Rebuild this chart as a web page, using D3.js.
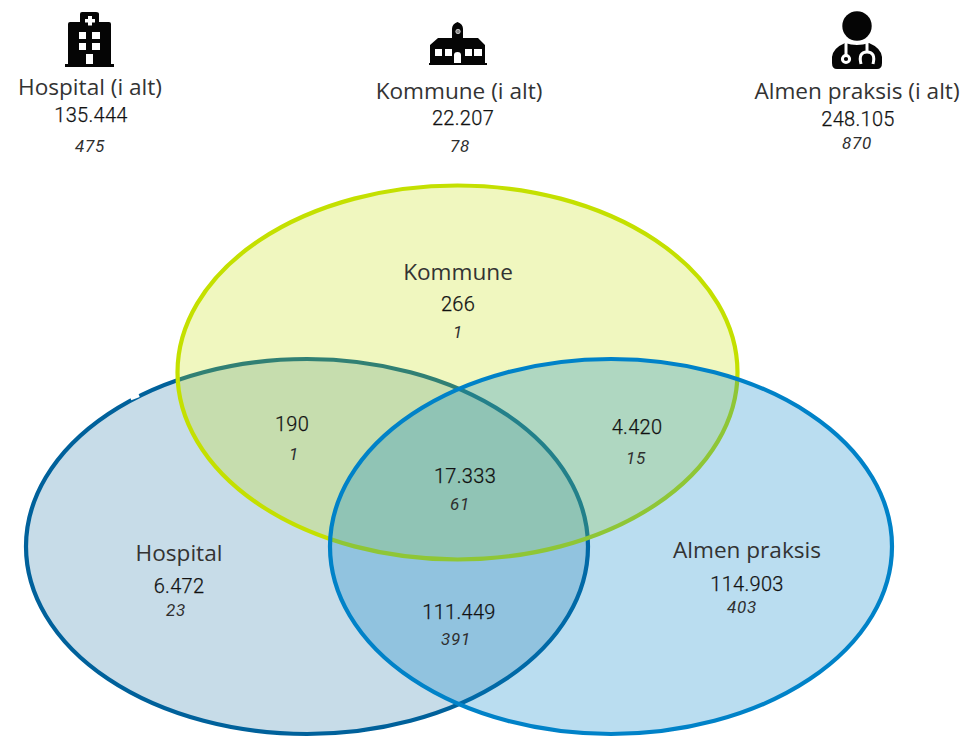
<!DOCTYPE html>
<html>
<head>
<meta charset="utf-8">
<script src="https://cdn.jsdelivr.net/npm/d3@7"></script>
<style>
  html, body { margin: 0; padding: 0; background: #fff; }
  svg { display: block; }
  .name { font-family: "Open Sans", sans-serif; font-size: 22.6px; fill: #333; }
  .value { font-family: Roboto, sans-serif; font-size: 20px; font-weight: 300; fill: #111; letter-spacing: 0.3px; stroke: #111; stroke-width: 0.25px; }
  .count { font-family: Roboto, sans-serif; font-size: 17px; font-style: italic; fill: #2f2f2f; letter-spacing: 0.8px; }
</style>
</head>
<body>
<div id="chart"></div>
<script>
// Totals at the top
const totalNames = ["Hospital (i alt)", "Kommune (i alt)", "Almen praksis (i alt)"];
const totalValues = ["135.444", "22.207", "248.105"];
const totalCounts = ["475", "78", "870"];

// Venn regions
const regionNames = ["Kommune", "", "", "", "Hospital", "Almen praksis", ""];
const regionValues = ["266", "190", "4.420", "17.333", "6.472", "114.903", "111.449"];
const regionCounts = ["1", "1", "15", "61", "23", "403", "391"];

// Layout: centre x, then baselines of name, value, count
const totalX = [[90, 91, 90], [459, 463, 460], [857, 858, 857]];
const totalY = [[95, 122, 152], [99, 125, 152], [99, 126, 149]];
const regionX = [[458, 458, 458], [0, 292, 294], [0, 637, 636], [0, 465, 460], [179, 179, 176], [747, 747, 742], [0, 459, 456]];
const regionY = [[280, 311, 338], [0, 431, 460], [0, 434, 464], [0, 483, 510], [561, 593, 616], [558, 591, 613], [0, 619, 645]];

// Circles, bottom one first
const setNames = ["Hospital", "Kommune", "Almen praksis"];
const setCx = [307, 457.5, 611];
const setCy = [546.5, 372.5, 546.5];
const setRx = [281, 280, 281];
const setRy = [187.5, 187, 187.5];
const setStroke = ["#00619b", "#c4e000", "#0082c8"];
const setFill = ["#005f95", "#c4e000", "#0082c8"];
const setOpacity = [0.22, 0.25, 0.27];

const width = 961, height = 737;

const svg = d3.select("#chart").append("svg")
  .attr("width", width)
  .attr("height", height);

// Draw fill and outline together so later sets tint the ones below
svg.selectAll(".set")
  .data(setNames)
  .enter().append("ellipse")
  .attr("class", "set")
  .attr("cx", (d, i) => setCx[i])
  .attr("cy", (d, i) => setCy[i])
  .attr("rx", (d, i) => setRx[i])
  .attr("ry", (d, i) => setRy[i])
  .attr("fill", (d, i) => d3.color(setFill[i]).copy({opacity: setOpacity[i]}))
  .attr("stroke", (d, i) => setStroke[i])
  .attr("stroke-width", 4.2);

// small gap in the hospital outline
svg.append("rect")
  .attr("x", 130).attr("y", 394)
  .attr("width", 9).attr("height", 5)
  .attr("fill", "#fff")
  .attr("transform", "rotate(-20 134 396)");

// Icons
const icons = svg.append("g").attr("fill", "#050505");

// Hospital
icons.append("g").attr("transform", "translate(65,12)")
  .append("path")
  .attr("fill-rule", "evenodd")
  .attr("d", "M15 10V2Q15 0 17 0H31Q34 0 34 2V10H44Q46 10 46 12V52H49V55H0V52H3V12Q3 10 5 10Z" +
    "M23 4V7H20V10.5H23V13.5H27V10.5H30V7H27V4Z" +
    "M14 20H21V27H14Z M27 20H35V27H27Z M14 31H21V38H14Z M27 31H35V38H27Z M21 42H28V52H21Z");

// Kommune
const kommune = icons.append("g").attr("transform", "translate(429,22)");
kommune.append("path")
  .attr("fill-rule", "evenodd")
  .attr("d", "M23 16V7Q23 2 28.5 0Q34 2 34 7V16H49L56 23V41H58V43H0V41H1V23L9 16Z" +
    "M6 27H13V34H6Z M16 27H23V34H16Z M36 27H43V34H36Z M45 27H53V34H45Z" +
    "M25 33Q25 30 28.5 30Q32 30 32 33V41H25Z");
kommune.append("circle")
  .attr("cx", 29).attr("cy", 9.5).attr("r", 2.2)
  .attr("fill", "#888").attr("stroke", "#ddd").attr("stroke-width", 0.8);

// Almen praksis
const doctor = icons.append("g").attr("transform", "translate(831,11)");
doctor.append("circle").attr("cx", 26).attr("cy", 15).attr("r", 14.7);
doctor.append("path")
  .attr("d", "M1 50V46Q2 37 14 32Q26 36 38 32Q50 37 51 46V52Q51 58 46 58H6Q1 58 1 52Z");
doctor.append("g")
  .attr("fill", "none").attr("stroke", "#fff").attr("stroke-width", 3)
  .call(g => {
    g.append("circle").attr("cx", 15).attr("cy", 48).attr("r", 3.6);
    g.append("path").attr("d", "M15 44V32");
    g.append("path").attr("d", "M30 53Q27 41 36 41Q45 41 42 53");
    g.append("path").attr("d", "M36 41V32");
  });

// Text above the venn
const totals = svg.selectAll(".total")
  .data(totalNames)
  .enter().append("g")
  .attr("class", "total")
  .attr("text-anchor", "middle");

totals.append("text").attr("class", "name")
  .attr("x", (d, i) => totalX[i][0]).attr("y", (d, i) => totalY[i][0])
  .text(d => d);
totals.append("text").attr("class", "value")
  .attr("x", (d, i) => totalX[i][1]).attr("y", (d, i) => totalY[i][1])
  .text((d, i) => totalValues[i]);
totals.append("text").attr("class", "count")
  .attr("x", (d, i) => totalX[i][2]).attr("y", (d, i) => totalY[i][2])
  .text((d, i) => totalCounts[i]);

// Text inside the regions
const regions = svg.selectAll(".region")
  .data(regionValues)
  .enter().append("g")
  .attr("class", "region")
  .attr("text-anchor", "middle");

regions.filter((d, i) => regionNames[i] !== "").append("text").attr("class", "name")
  .attr("x", d => regionX[regionValues.indexOf(d)][0])
  .attr("y", d => regionY[regionValues.indexOf(d)][0])
  .text(d => regionNames[regionValues.indexOf(d)]);
regions.append("text").attr("class", "value")
  .attr("x", (d, i) => regionX[i][1]).attr("y", (d, i) => regionY[i][1])
  .text(d => d);
regions.append("text").attr("class", "count")
  .attr("x", (d, i) => regionX[i][2]).attr("y", (d, i) => regionY[i][2])
  .text((d, i) => regionCounts[i]);
</script>
</body>
</html>
